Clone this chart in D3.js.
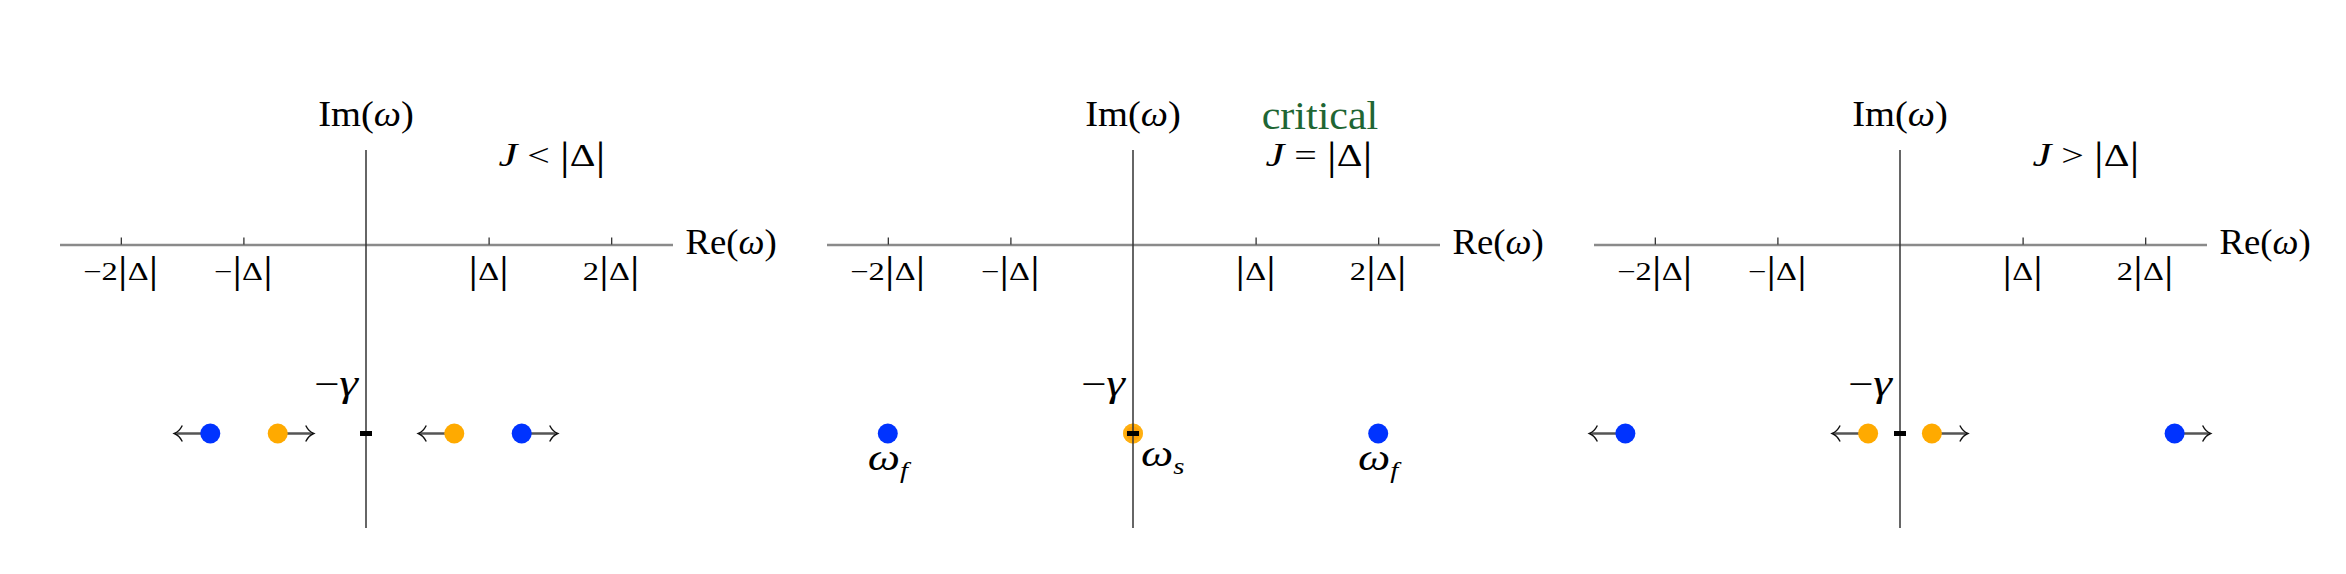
<!DOCTYPE html>
<html>
<head>
<meta charset="utf-8">
<script src="https://cdn.jsdelivr.net/npm/d3@7"></script>
<style>
  body { margin: 0; background: #fff; }
  svg text { font-family: "Liberation Serif", "DejaVu Serif", serif; fill: #000; white-space: pre; }
</style>
</head>
<body>
<svg id="chart" width="2346" height="574"></svg>
<script>
// three regimes, J below / at / above |Delta|
const conditions = ["<", "=", ">"];
const titles = ["", "critical", ""];

// real parts of the eigenfrequencies (units of |Delta|), Im = -gamma for all
const blueRe = [[-1.27, 1.27], [-2.0, 2.0], [-2.24, 2.24]];
const orangeRe = [[-0.72, 0.72], [0, 0], [-0.26, 0.26]];
// direction the root moves as J grows (-1 left, 1 right, 0 none)
const blueDir = [[-1, 1], [0, 0], [-1, 1]];
const orangeDir = [[1, -1], [0, 0], [-1, 1]];

const tickValues = [-2, -1, 1, 2];
const tickLabels = ["−2", "−", "", "2"];
const gammaIm = -1;

const svg = d3.select("#chart");
const BLUE = "#0033ff", ORANGE = "#ffaa00", GREEN = "#1f6634";

// math-ish text helper: parts = [text, italic, size, dy]
// sx stretches glyphs sideways, the original font is wider than ours
function mathText(g, x, y, parts, anchor, sx, color) {
  const t = g.append("text")
    .attr("transform", `translate(${x},${y}) scale(${sx || 1.2},1)`)
    .attr("text-anchor", anchor || "start")
    .style("fill", color || "#000");
  parts.forEach(p => {
    const s = t.append("tspan").text(p[0]).attr("font-size", p[2]);
    if (p[1]) s.attr("font-style", "italic");
    if (p[3]) s.attr("dy", p[3]);
  });
  return t;
}

const panelW = 767;
const y = d3.scaleLinear().domain([0.5, -1.5]).range([150, 528]);

conditions.forEach((cond, i) => {
  const cx = 366 + i * panelW;
  const x = d3.scaleLinear().domain([-2.5, 2.5]).range([cx - 306.5, cx + 306.5]);
  const g = svg.append("g");

  // real axis with ticks pointing up
  const ax = g.append("g")
    .attr("transform", `translate(0,${y(0)})`)
    .call(d3.axisBottom(x).tickValues(tickValues).tickSize(-7).tickSizeOuter(0).tickFormat(""));
  ax.select(".domain").attr("stroke", "#8a8a8a").attr("stroke-width", 2.5);
  ax.selectAll(".tick line").attr("stroke", "#222").attr("stroke-width", 1.2);

  tickValues.forEach((v, k) => {
    mathText(g, x(v), y(0) + 35, [
      [tickLabels[k], false, 25],
      ["|", false, 38, 3],
      ["Δ", false, 25, -3],
      ["|", false, 38, 3]
    ], "middle", 1.3);
  });

  // arrows, then dots
  const pts = [];
  blueRe[i].forEach((v, k) => pts.push({ re: v, dir: blueDir[i][k], c: BLUE }));
  orangeRe[i].forEach((v, k) => pts.push({ re: v, dir: orangeDir[i][k], c: ORANGE }));

  const arr = g.selectAll("g.arrow").data(pts.filter(d => d.dir !== 0)).enter()
    .append("g").attr("class", "arrow")
    .attr("transform", d => `translate(${x(d.re)},${y(gammaIm)}) scale(${d.dir},1)`);
  arr.append("line").attr("x1", 0).attr("x2", 34).attr("y1", 0).attr("y2", 0)
    .attr("stroke", "#555").attr("stroke-width", 2.5);
  arr.append("path").attr("d", "M28,-8 Q31,-2 36,0 Q31,2 28,8")
    .attr("fill", "none").attr("stroke", "#111").attr("stroke-width", 1.4);

  const coincide = i === 1;
  g.selectAll("circle.root").data(pts).enter().append("circle")
    .attr("class", "root")
    .attr("cx", d => x(d.re)).attr("cy", y(gammaIm))
    .attr("r", 10)
    .attr("fill", d => d.c)
    .attr("fill-opacity", d => (coincide && d.c === ORANGE) ? 0.75 : 1);
  if (coincide) {
    g.append("circle").attr("cx", x(0)).attr("cy", y(gammaIm)).attr("r", 7)
      .attr("fill", "#ff9800").attr("fill-opacity", 0.6);
  }

  // imaginary axis
  g.append("line")
    .attr("x1", x(0)).attr("x2", x(0)).attr("y1", y(0.5)).attr("y2", y(-1.5))
    .attr("stroke", "#333").attr("stroke-width", 1.5);
  // -gamma marker
  g.append("rect").attr("x", x(0) - 6).attr("y", y(gammaIm) - 2.5)
    .attr("width", 12).attr("height", 5).attr("fill", "#000");

  // axis labels
  mathText(g, x(0), 126, [["Im(", false, 35], ["ω", true, 35], [")", false, 35]], "middle", 1.1);
  mathText(g, x(2.5) + 13, 254, [["Re(", false, 35], ["ω", true, 35], [")", false, 35]], "start", 1.05);
  mathText(g, x(0) - 8, 396, [["−", false, 36], ["γ", true, 38]], "end", 1.25);

  // regime label
  mathText(g, cx + 186, 166, [
    ["J", true, 34], [" " + cond + " ", false, 32],
    ["|", false, 40, 3], ["Δ", false, 32, -3], ["|", false, 40, 3]
  ], "middle", 1.25);
  if (titles[i]) {
    mathText(g, cx + 187, 129, [[titles[i], false, 40]], "middle", 1.05, GREEN);
  }

  if (coincide) {
    blueRe[i].forEach(v => {
      mathText(g, x(v), 470, [["ω", true, 38], ["f", true, 24, 8]], "middle");
    });
    mathText(g, x(0) + 8, 466, [["ω", true, 38], ["s", true, 24, 8]]);
  }
});
</script>
</body>
</html>
